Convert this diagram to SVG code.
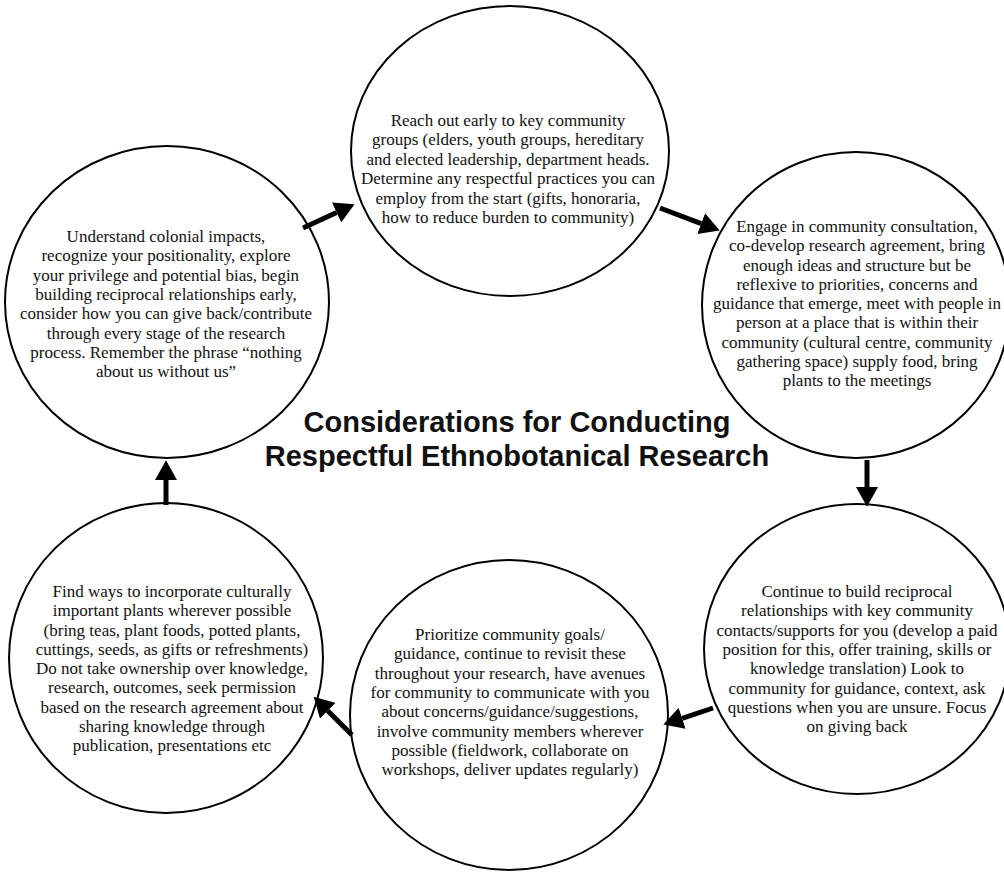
<svg xmlns="http://www.w3.org/2000/svg" width="1004" height="872" viewBox="0 0 1004 872">
<style>
.node{fill:#fff;stroke:#000;stroke-width:2}
.body{font-family:"Liberation Serif","Times New Roman",serif;font-size:17px;fill:#111;text-anchor:middle}
.title{font-family:"Liberation Sans",Arial,sans-serif;font-size:29px;font-weight:bold;fill:#111;text-anchor:middle}
.conn{stroke:#000;stroke-width:5;fill:none}
</style>
<defs>
<marker id="ah" markerUnits="userSpaceOnUse" markerWidth="20" markerHeight="22" refX="0" refY="10" orient="auto" viewBox="0 0 18 20">
<path d="M0,0 L18,10 L0,20 Z" fill="#000"/>
</marker>
</defs>
<rect width="1004" height="872" fill="#fff"/>
<g id="node-understand">
<ellipse class="node" cx="167" cy="302" rx="162" ry="156"/>
<text class="body" x="166" y="242"><tspan x="166">Understand colonial impacts,</tspan><tspan x="166" dy="19.3">recognize your positionality, explore</tspan><tspan x="166" dy="19.3">your privilege and potential bias, begin</tspan><tspan x="166" dy="19.3">building reciprocal relationships early,</tspan><tspan x="166" dy="19.3">consider how you can give back/contribute</tspan><tspan x="166" dy="19.3">through every stage of the research</tspan><tspan x="166" dy="19.3">process. Remember the phrase “nothing</tspan><tspan x="166" dy="19.3">about us without us”</tspan></text>
</g>
<g id="node-reach">
<ellipse class="node" cx="510" cy="151" rx="159" ry="145"/>
<text class="body" x="508" y="126"><tspan x="508">Reach out early to key community</tspan><tspan x="508" dy="19.4">groups (elders, youth groups, hereditary</tspan><tspan x="508" dy="19.4">and elected leadership, department heads.</tspan><tspan x="508" dy="19.4">Determine any respectful practices you can</tspan><tspan x="508" dy="19.4">employ from the start (gifts, honoraria,</tspan><tspan x="508" dy="19.4">how to reduce burden to community)</tspan></text>
</g>
<g id="node-engage">
<ellipse class="node" cx="856" cy="305" rx="154" ry="153"/>
<text class="body" x="857" y="232"><tspan x="857">Engage in community consultation,</tspan><tspan x="857" dy="19.25">co-develop research agreement, bring</tspan><tspan x="857" dy="19.25">enough ideas and structure but be</tspan><tspan x="857" dy="19.25">reflexive to priorities, concerns and</tspan><tspan x="857" dy="19.25">guidance that emerge, meet with people in</tspan><tspan x="857" dy="19.25">person at a place that is within their</tspan><tspan x="857" dy="19.25">community (cultural centre, community</tspan><tspan x="857" dy="19.25">gathering space) supply food, bring</tspan><tspan x="857" dy="19.25">plants to the meetings</tspan></text>
</g>
<g id="node-continue">
<ellipse class="node" cx="857" cy="649" rx="153" ry="145"/>
<text class="body" x="857" y="597"><tspan x="857">Continue to build reciprocal</tspan><tspan x="857" dy="19.3">relationships with key community</tspan><tspan x="857" dy="19.3">contacts/supports for you (develop a paid</tspan><tspan x="857" dy="19.3">position for this, offer training, skills or</tspan><tspan x="857" dy="19.3">knowledge translation) Look to</tspan><tspan x="857" dy="19.3">community for guidance, context, ask</tspan><tspan x="857" dy="19.3">questions when you are unsure. Focus</tspan><tspan x="857" dy="19.3">on giving back</tspan></text>
</g>
<g id="node-prioritize">
<ellipse class="node" cx="509" cy="715" rx="159" ry="155"/>
<text class="body" x="510" y="640"><tspan x="510">Prioritize community goals/</tspan><tspan x="510" dy="19.3">guidance, continue to revisit these</tspan><tspan x="510" dy="19.3">throughout your research, have avenues</tspan><tspan x="510" dy="19.3">for community to communicate with you</tspan><tspan x="510" dy="19.3">about concerns/guidance/suggestions,</tspan><tspan x="510" dy="19.3">involve community members wherever</tspan><tspan x="510" dy="19.3">possible (fieldwork, collaborate on</tspan><tspan x="510" dy="19.3">workshops, deliver updates regularly)</tspan></text>
</g>
<g id="node-plants">
<ellipse class="node" cx="166" cy="658" rx="157" ry="155"/>
<text class="body" x="172" y="597"><tspan x="172">Find ways to incorporate culturally</tspan><tspan x="172" dy="19.25">important plants wherever possible</tspan><tspan x="172" dy="19.25">(bring teas, plant foods, potted plants,</tspan><tspan x="172" dy="19.25">cuttings, seeds, as gifts or refreshments)</tspan><tspan x="172" dy="19.25">Do not take ownership over knowledge,</tspan><tspan x="172" dy="19.25">research, outcomes, seek permission</tspan><tspan x="172" dy="19.25">based on the research agreement about</tspan><tspan x="172" dy="19.25">sharing knowledge through</tspan><tspan x="172" dy="19.25">publication, presentations etc</tspan></text>
</g>
<g id="title">
<text class="title" x="517" y="432">Considerations for Conducting</text>
<text class="title" x="517" y="466">Respectful Ethnobotanical Research</text>
</g>
<g id="connectors">
<line class="conn" x1="303" y1="228" x2="336.6" y2="212.5" marker-end="url(#ah)"/>
<line class="conn" x1="660" y1="208" x2="701.2" y2="223.6" marker-end="url(#ah)"/>
<line class="conn" x1="867" y1="460" x2="867" y2="487" marker-end="url(#ah)"/>
<line class="conn" x1="713" y1="708" x2="682.1" y2="718.3" marker-end="url(#ah)"/>
<line class="conn" x1="352" y1="735" x2="327.7" y2="710.7" marker-end="url(#ah)"/>
<line class="conn" x1="166" y1="505" x2="166" y2="480" marker-end="url(#ah)"/>
</g>
</svg>
